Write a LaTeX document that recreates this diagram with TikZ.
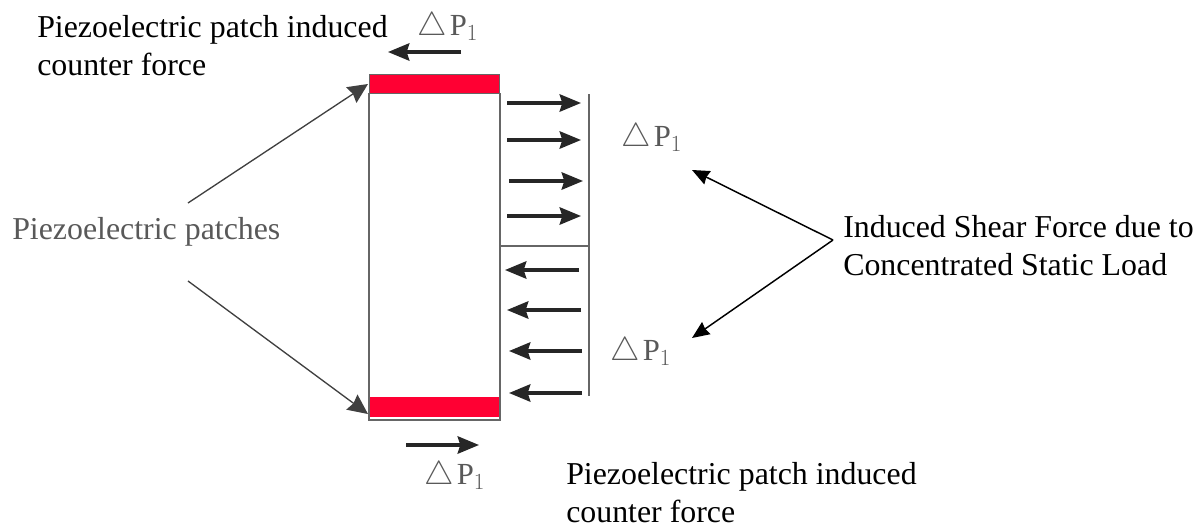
\documentclass[tikz,border=0pt]{standalone}
\usepackage{fontspec}
\setmainfont{Liberation Serif}
\usetikzlibrary{arrows.meta}
\definecolor{patchred}{RGB}{255,0,51}
\newcommand{\deltaload}{\(\triangle\)\kern2pt P\(_{1}\)}

\begin{document}
\begin{tikzpicture}[x=0.75pt,y=-0.75pt,
    label node/.style={inner sep=0pt,anchor=west,align=left,font=\fontsize{23.9pt}{28.5pt}\selectfont},
    load node/.style={inner sep=0pt,text=black!65,font=\fontsize{23pt}{25pt}\selectfont},
    patch node/.style={draw=black!60,fill=patchred,minimum width=97.5pt,minimum height=14pt,inner sep=0pt,line width=0.6pt},
    wall/.style={draw=black!60,line width=1.3pt},
    force/.style={draw=black!85,line width=2.4pt,-{Stealth[length=16pt,width=13pt,inset=2pt]}},
    pointer/.style={draw=black!75,line width=1pt,-{Stealth[length=15pt,width=14pt,inset=1.5pt]}},
    leader/.style={draw=black,line width=1.1pt,-{Stealth[length=13pt,width=11pt,inset=1pt]}}]
    \useasboundingbox (0,0) rectangle (1200,529);

    \node[patch node] (top patch) at (434,84) {};
    \node[patch node,draw=none,minimum height=15pt] (bottom patch) at (434,407) {};

    \coordinate (tl) at (369,93);
    \coordinate (tr) at (500,93);
    \coordinate (bl) at (369,420);
    \coordinate (br) at (500,420);
    \coordinate (ml) at (500,246);
    \coordinate (mr) at (589,246);
    \coordinate (et) at (589,94);
    \coordinate (eb) at (589,396);
    \draw[wall] (tl) -- (bl) -- (br) -- (tr);
    \draw[wall] (ml) -- (mr);
    \draw[wall] (et) -- (eb);

    \node[label node] (top label) at (37,46) {Piezoelectric patch induced\\counter force};
    \node[label node] (bottom label) at (566,493) {Piezoelectric patch induced\\counter force};
    \node[label node] (shear label) at (843,246) {Induced Shear Force due to\\Concentrated Static Load};
    \node[label node,text=black!65] (patch label) at (12,232) {Piezoelectric patches};

    \node[load node] (load top) at (448,27) {\deltaload};
    \node[load node] (load upper) at (652,138) {\deltaload};
    \node[load node] (load lower) at (641,352) {\deltaload};
    \node[load node] (load bottom) at (455,476) {\deltaload};

    \coordinate (patch up) at (188,203);
    \coordinate (patch down) at (188,281);
    \coordinate (top tip) at (368,84);
    \coordinate (bottom tip) at (368,414);
    \coordinate (shear root) at (833,240);
    \coordinate (upper tip) at (692,170);
    \coordinate (lower tip) at (692,338);

    \coordinate (f1) at (507,103);
    \coordinate (t1) at (581,103);
    \coordinate (f2) at (507,140);
    \coordinate (t2) at (581,140);
    \coordinate (f3) at (509,181);
    \coordinate (t3) at (583,181);
    \coordinate (f4) at (507,216);
    \coordinate (t4) at (581,216);
    \coordinate (f5) at (579,270);
    \coordinate (t5) at (505,270);
    \coordinate (f6) at (581,310);
    \coordinate (t6) at (507,310);
    \coordinate (f7) at (582,351);
    \coordinate (t7) at (509,351);
    \coordinate (f8) at (582,393);
    \coordinate (t8) at (509,393);
    \coordinate (f9) at (461,52);
    \coordinate (t9) at (388,52);
    \coordinate (f10) at (406,445);
    \coordinate (t10) at (479,445);

    \path[every edge/.style={force}]
        (f1) edge (t1)
        (f2) edge (t2)
        (f3) edge (t3)
        (f4) edge (t4)
        (f5) edge (t5)
        (f6) edge (t6)
        (f7) edge (t7)
        (f8) edge (t8)
        (f9) edge (t9)
        (f10) edge (t10)
        ;
    \path[every edge/.style={pointer}]
        (patch up) edge (top tip)
        (patch down) edge (bottom tip)
        ;
    \path[every edge/.style={leader}]
        (shear root) edge (upper tip)
        (shear root) edge (lower tip)
        ;
\end{tikzpicture}
\end{document}
